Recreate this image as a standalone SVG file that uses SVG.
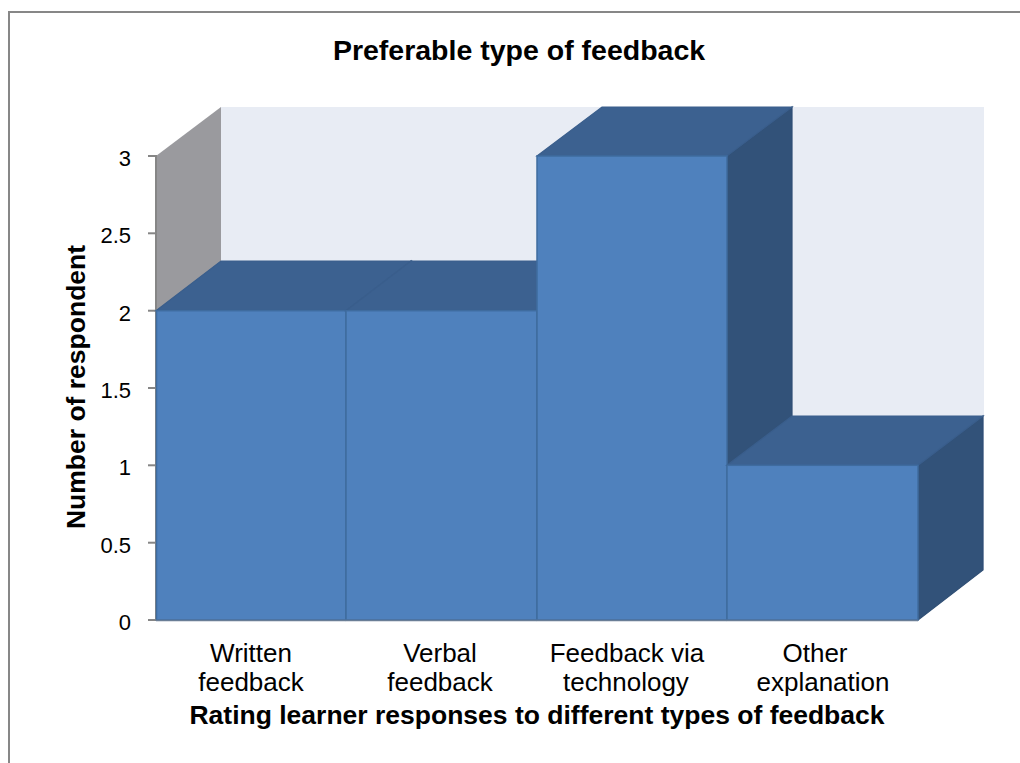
<svg xmlns="http://www.w3.org/2000/svg" width="1020" height="763" viewBox="0 0 1020 763">
<style>
.front{fill:#4F81BD;stroke:#3F6C9F;stroke-width:1.5}
.top{fill:#3C6190;stroke:#3A5E8C;stroke-width:1.2}
.side{fill:#325279;stroke:#304F75;stroke-width:1.2}
.tick{stroke:#868686;stroke-width:2}
.num{font-family:"Liberation Sans",Arial,sans-serif;font-size:22px;fill:#000;text-anchor:end}
.cat{font-family:"Liberation Sans",Arial,sans-serif;font-size:26px;fill:#000;text-anchor:middle}
.bold{font-family:"Liberation Sans",Arial,sans-serif;font-weight:bold;fill:#000;text-anchor:middle}
</style>
<rect x="0" y="0" width="1020" height="763" fill="#fff"/>
<rect id="frame" x="9" y="12" width="1030" height="780" fill="none" stroke="#878787" stroke-width="2"/>
<text id="title" class="bold" x="519" y="60" font-size="28.5">Preferable type of feedback</text>
<g id="walls">
<polygon points="221,107 984,107 984,570 221,570" fill="#E8ECF4"/>
<polygon points="156,156 221,107 221,570 156,620" fill="#9A9A9E"/>
</g>
<g id="axis">
<line x1="156" y1="155" x2="156" y2="621" stroke="#868686" stroke-width="2"/>
<line class="tick" x1="148" y1="156" x2="156" y2="156"/>
<line class="tick" x1="148" y1="233.3" x2="156" y2="233.3"/>
<line class="tick" x1="148" y1="310.7" x2="156" y2="310.7"/>
<line class="tick" x1="148" y1="388" x2="156" y2="388"/>
<line class="tick" x1="148" y1="465.3" x2="156" y2="465.3"/>
<line class="tick" x1="148" y1="542.7" x2="156" y2="542.7"/>
<line class="tick" x1="148" y1="620" x2="156" y2="620"/>
<text class="num" x="131" y="166">3</text>
<text class="num" x="131" y="243.3">2.5</text>
<text class="num" x="131" y="320.7">2</text>
<text class="num" x="131" y="398">1.5</text>
<text class="num" x="131" y="475.3">1</text>
<text class="num" x="131" y="552.7">0.5</text>
<text class="num" x="131" y="630">0</text>
</g>
<g id="bar-written">
<polygon class="side" points="346,310.7 411,261 411,570 346,620"/>
<polygon class="top" points="156,310.7 221,261 411,261 346,310.7"/>
<rect class="front" x="156.5" y="310.7" width="189.5" height="309.3"/>
</g>
<g id="bar-verbal">
<polygon class="side" points="537,310.7 602,261 602,570 537,620"/>
<polygon class="top" points="346,310.7 411,261 602,261 537,310.7"/>
<rect class="front" x="346" y="310.7" width="191" height="309.3"/>
</g>
<g id="bar-technology">
<polygon class="side" points="727,156 792,107 792,570 727,620"/>
<polygon class="top" points="537,156 602,107 792,107 727,156"/>
<rect class="front" x="537" y="156" width="190" height="464"/>
</g>
<g id="bar-other">
<polygon class="side" points="918,465.3 983,416 983,570 918,620"/>
<polygon class="top" points="727,465.3 792,416 983,416 918,465.3"/>
<rect class="front" x="727" y="465.3" width="191" height="154.7"/>
</g>
<line x1="156" y1="620.5" x2="918" y2="620.5" stroke="#6A7E96" stroke-width="1.5"/>
<g id="categories">
<text class="cat" x="251" y="662">Written</text>
<text class="cat" x="251" y="691">feedback</text>
<text class="cat" x="440" y="662">Verbal</text>
<text class="cat" x="440" y="691">feedback</text>
<text class="cat" x="627" y="662">Feedback via</text>
<text class="cat" x="626" y="691">technology</text>
<text class="cat" x="815" y="662">Other</text>
<text class="cat" x="823" y="691">explanation</text>
</g>
<text id="x-title" class="bold" x="537" y="724" font-size="26.5">Rating learner responses to different types of feedback</text>
<text id="y-title" class="bold" font-size="26.5" transform="translate(85,387) rotate(-90)">Number of respondent</text>
</svg>
